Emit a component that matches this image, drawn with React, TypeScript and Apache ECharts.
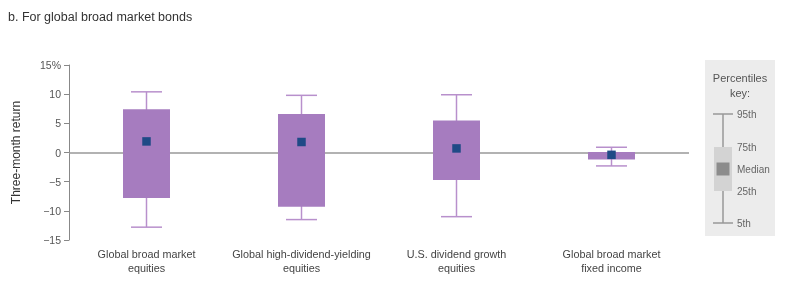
import React, { useEffect, useRef } from "react";
import * as echarts from "echarts";

const categories = [
  "Global broad market\nequities",
  "Global high-dividend-yielding\nequities",
  "U.S. dividend growth\nequities",
  "Global broad market\nfixed income",
];
const p5 = [-12.8, -11.5, -11.0, -2.3];
const p25 = [-7.8, -9.3, -4.7, -1.2];
const median = [1.9, 1.8, 0.7, -0.4];
const p75 = [7.4, 6.6, 5.5, 0.1];
const p95 = [10.4, 9.8, 9.9, 0.9];
const yTicks = [-15, -10, -5, 0, 5, 10, 15];
const keyLabels = ["95th", "75th", "Median", "25th", "5th"];

const FONT = "Liberation Sans, Arial, sans-serif";
const BOX = "#a67cbf";
const WHISK = "#b890cc";
const MED = "#1f4a86";

export default function App() {
  const ref = useRef<HTMLDivElement>(null);
  useEffect(() => {
    if (!ref.current) return;
    const chart = echarts.init(ref.current, undefined, { renderer: "svg" });
    const data = categories.map((_, i) => [i, p5[i], p25[i], median[i], p75[i], p95[i]]);
    const fmt = (v: number) => (v === yTicks[yTicks.length - 1] ? v + "%" : v < 0 ? "\u2212" + Math.abs(v) : String(v));

    const keyX = 723;
    const keyY = { p95: 114, p75: 147, med: 169, p25: 191, p5: 223 };

    chart.setOption({
      animation: false,
      textStyle: { fontFamily: FONT },
      title: {
        text: "b. For global broad market bonds",
        left: 3,
        top: 5,
        textStyle: { fontSize: 12.5, fontWeight: "normal", color: "#333", fontFamily: FONT },
      },
      grid: { left: 69, top: 65, width: 620, height: 175 },
      xAxis: {
        type: "category",
        data: categories,
        axisLine: { show: false },
        axisTick: { show: false },
        axisLabel: { color: "#444", fontSize: 10.8, lineHeight: 14, margin: 7, fontFamily: FONT, interval: 0 },
      },
      yAxis: {
        type: "value",
        min: -15,
        max: 15,
        interval: 5,
        name: "Three-month return",
        nameLocation: "middle",
        nameRotate: 90,
        nameGap: 47,
        nameTextStyle: { color: "#333", fontSize: 12, fontFamily: FONT },
        axisLine: { show: true, lineStyle: { color: "#888", width: 1 } },
        axisTick: { show: true, length: 5, lineStyle: { color: "#888" } },
        splitLine: { show: false },
        axisLabel: { color: "#555", fontSize: 10.5, margin: 8, formatter: fmt, fontFamily: FONT },
      },
      series: [
        {
          type: "line",
          data: [],
          z: 1,
          silent: true,
          markLine: {
            silent: true,
            symbol: "none",
            label: { show: false },
            lineStyle: { color: "#999", width: 1.5, type: "solid" },
            data: [{ yAxis: 0 }],
          },
        },
        {
          type: "custom",
          z: 5,
          data,
          encode: { x: 0, y: [1, 2, 3, 4, 5] },
          renderItem: (params: any, api: any) => {
            const i = api.value(0);
            const lo = api.coord([i, api.value(1)]);
            const q1 = api.coord([i, api.value(2)]);
            const md = api.coord([i, api.value(3)]);
            const q3 = api.coord([i, api.value(4)]);
            const hi = api.coord([i, api.value(5)]);
            const cx = lo[0];
            const bw = 47;
            const cw = 31;
            const ms = 8.5;
            const ls = { stroke: WHISK, lineWidth: 1.5 };
            return {
              type: "group",
              children: [
                { type: "line", shape: { x1: cx, y1: hi[1], x2: cx, y2: lo[1] }, style: ls },
                { type: "line", shape: { x1: cx - cw / 2, y1: hi[1], x2: cx + cw / 2, y2: hi[1] }, style: ls },
                { type: "line", shape: { x1: cx - cw / 2, y1: lo[1], x2: cx + cw / 2, y2: lo[1] }, style: ls },
                {
                  type: "rect",
                  shape: { x: cx - bw / 2, y: q3[1], width: bw, height: q1[1] - q3[1] },
                  style: { fill: BOX },
                },
                {
                  type: "rect",
                  shape: { x: cx - ms / 2, y: md[1] - ms / 2, width: ms, height: ms },
                  style: { fill: MED },
                },
              ],
            };
          },
        },
      ],
      graphic: [
        { type: "rect", shape: { x: 705, y: 60, width: 70, height: 176 }, style: { fill: "#ececec" } },
        {
          type: "text",
          x: 740,
          y: 85,
          style: { text: "Percentiles\nkey:", fill: "#555", font: `11px ${FONT}`, align: "center", verticalAlign: "middle", lineHeight: 15 },
        },
        { type: "line", shape: { x1: keyX, y1: keyY.p95, x2: keyX, y2: keyY.p5 }, style: { stroke: "#999", lineWidth: 1.5 } },
        { type: "line", shape: { x1: keyX - 10, y1: keyY.p95, x2: keyX + 10, y2: keyY.p95 }, style: { stroke: "#999", lineWidth: 1.5 } },
        { type: "line", shape: { x1: keyX - 10, y1: keyY.p5, x2: keyX + 10, y2: keyY.p5 }, style: { stroke: "#999", lineWidth: 1.5 } },
        { type: "rect", shape: { x: keyX - 9, y: keyY.p75, width: 18, height: keyY.p25 - keyY.p75 }, style: { fill: "#d3d3d3" } },
        { type: "rect", shape: { x: keyX - 6.5, y: keyY.med - 6.5, width: 13, height: 13 }, style: { fill: "#8c8c8c" } },
        ...[keyY.p95, keyY.p75, keyY.med, keyY.p25, keyY.p5].map((y, k) => ({
          type: "text",
          x: 737,
          y,
          style: { text: keyLabels[k], fill: "#666", font: `10px ${FONT}`, align: "left", verticalAlign: "middle" },
        })),
      ],
    });
    return () => chart.dispose();
  }, []);
  return <div ref={ref} style={{ position: "fixed", left: 0, top: 0, width: 800, height: 282 }} />;
}
